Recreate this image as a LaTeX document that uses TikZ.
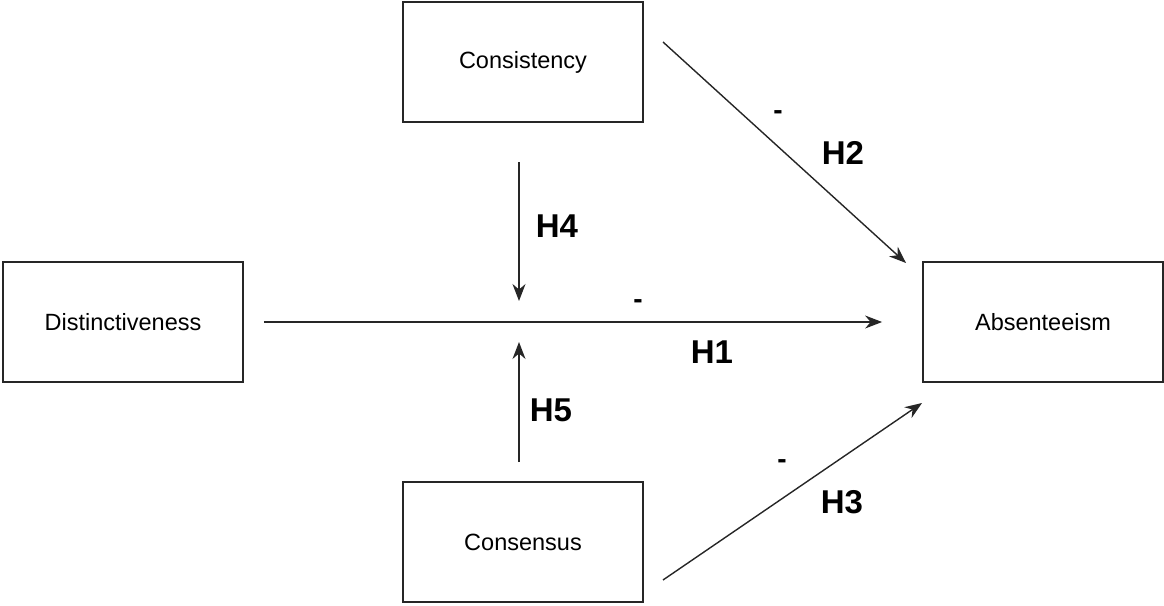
\documentclass[tikz,border=0pt]{standalone}
\usepackage{fontspec}
\setmainfont{Liberation Sans}
\usetikzlibrary{arrows.meta}
\begin{document}
\begin{tikzpicture}[x=1pt,y=-1pt,
  box/.style={draw=black!85, line width=1.8pt, minimum width=240pt, minimum height=120pt, inner sep=0pt, font=\fontsize{23.5}{26}\selectfont},
  conn/.style={draw=black!85, line width=1.4pt, -{Stealth[length=17pt,width=13pt]}},
  hlab/.style={font=\fontsize{33}{36}\selectfont\bfseries, inner sep=0pt},
  mlab/.style={font=\fontsize{28}{30}\selectfont\bfseries, inner sep=0pt}]
\useasboundingbox (0,0) rectangle (1164,605);
\node[box] (cons) at (523,62) {Consistency};
\node[box] (dist) at (123,322) {Distinctiveness};
\node[box] (abs)  at (1043,322) {Absenteeism};
\node[box] (csns) at (523,542) {Consensus};
\coordinate (h4a) at (519,162);
\coordinate (h4b) at (519,301);
\coordinate (h5a) at (519,462);
\coordinate (h5b) at (519,342);
\coordinate (h2a) at (663,42);
\coordinate (h2b) at (906,263);
\coordinate (h3a) at (663,580);
\coordinate (h3b) at (922,403);
\draw[conn, shorten <=20pt, shorten >=40pt] (dist.east) -- (abs.west);
\draw[conn] (h4a) -- (h4b);
\draw[conn] (h5a) -- (h5b);
\draw[conn] (h2a) -- (h2b);
\draw[conn] (h3a) -- (h3b);
\node[mlab] (m2) at (778,115) {-};
\node[hlab] (l2) at (843,153) {H2};
\node[hlab] (l4) at (557,226) {H4};
\node[mlab] (m1) at (638,304) {-};
\node[hlab] (l1) at (712,352) {H1};
\node[hlab] (l5) at (551,410) {H5};
\node[mlab] (m3) at (782,464) {-};
\node[hlab] (l3) at (842,502) {H3};
\end{tikzpicture}
\end{document}
